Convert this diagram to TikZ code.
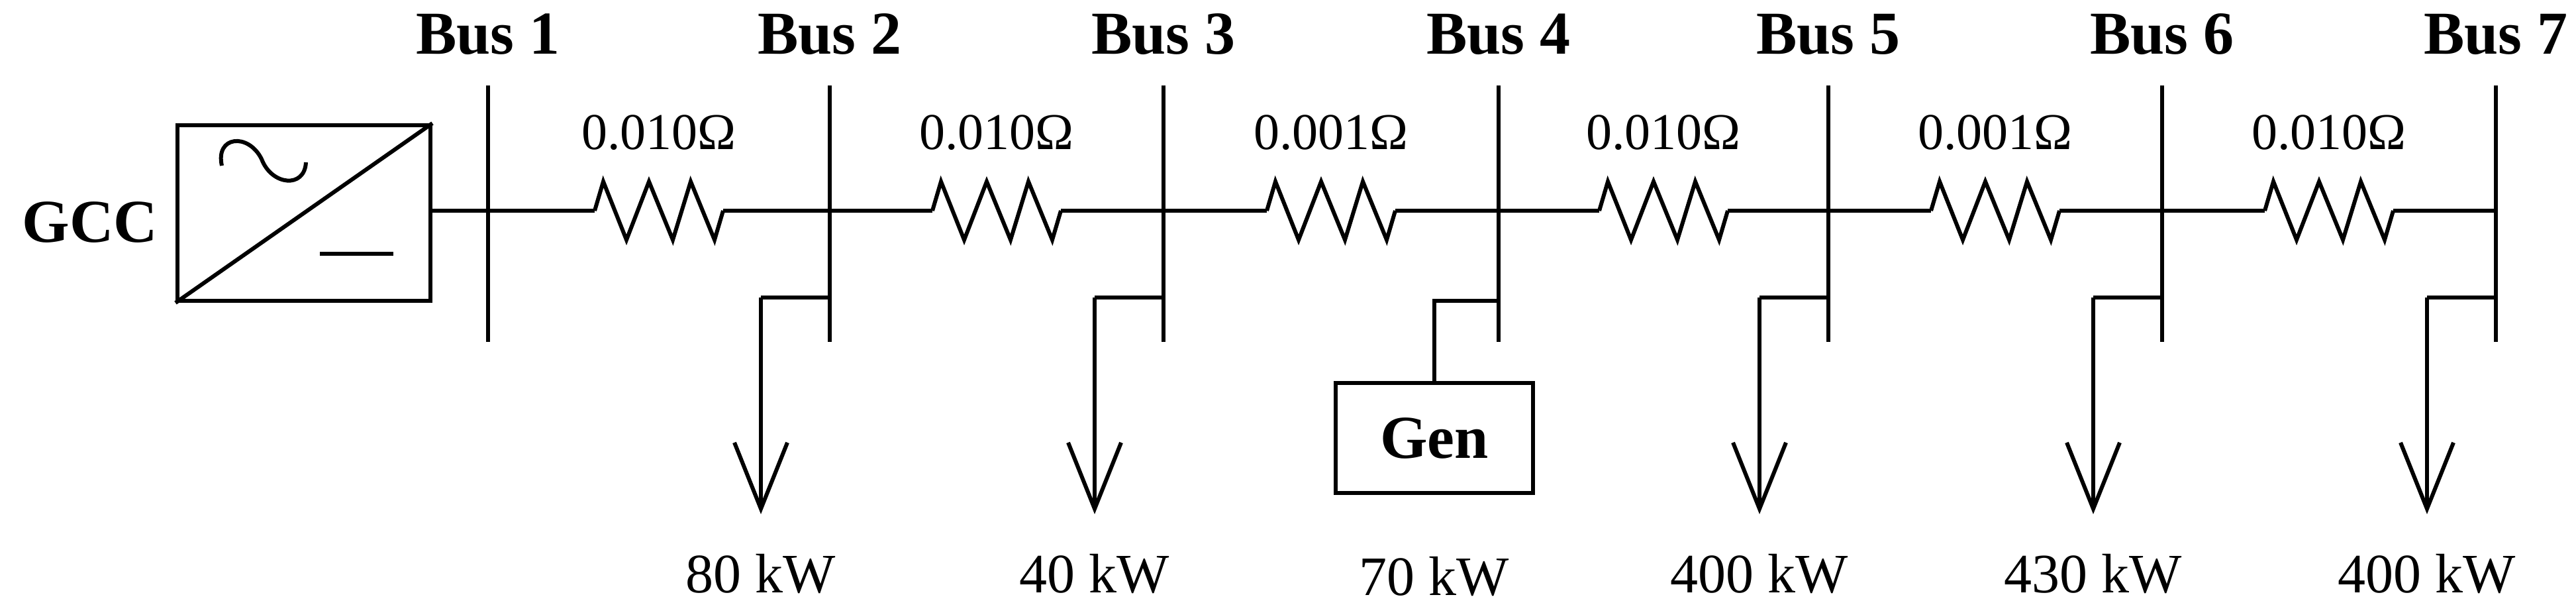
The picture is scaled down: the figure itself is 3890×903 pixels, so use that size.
\documentclass[tikz,border=0pt]{standalone}
\usepackage{fontspec}
\setmainfont{Liberation Serif}
\usetikzlibrary{arrows.meta,calc}
\begin{document}
\begin{tikzpicture}[x=1pt,y=-1pt,line width=6pt,
  bus/.style={font=\bfseries\fontsize{92}{100}\selectfont},
  res/.style={font=\fontsize{78}{86}\selectfont},
  kw/.style={font=\fontsize{84}{92}\selectfont},
  load/.style={-{Straight Barb[length=100pt,width=80pt,line width=6pt]}},
  resistor/.pic={\draw[line join=miter] (-97,0) -- (-84,-44) -- (-49,44) -- (-15,-44) -- (21,44) -- (48,-44) -- (84,44) -- (97,0);}]
\useasboundingbox (0,0) rectangle (3890,903);
% converter
\node[draw,minimum width=382pt,minimum height=265pt,inner sep=0pt] (conv) at (459,321.5) {};
\draw (conv.south west) -- (conv.north east);
\draw (335,250) .. controls (325,205) and (375,200) .. (395,240) .. controls (410,280) and (460,285) .. (462,245);
\draw (483,383) -- (594,383);
\node[bus] (gcc) at (136,335) {GCC};
% buses
\foreach \i/\x in {1/737,2/1253,3/1757,4/2263,5/2761,6/3265,7/3769}{
  \coordinate (t\i) at (\x,129); \coordinate (b\i) at (\x,516); \coordinate (m\i) at (\x,318);
  \draw (t\i) -- (b\i);
  \node[bus] (lab\i) at (\x,52) {Bus \i};
}
\draw (conv.east |- m1) -- (m7);
% resistors
\foreach \a/\b/\r in {1/2/0.010,2/3/0.010,3/4/0.001,4/5/0.010,5/6/0.001,6/7/0.010}{
  \coordinate (r\a) at ($(m\a)!0.5!(m\b)$);
  \fill[white] ($(r\a)+(-97,-10)$) rectangle ($(r\a)+(97,10)$);
  \pic at (r\a) {resistor};
  \node[res] (rl\a) at ($(r\a)+(0,-118)$) {\r Ω};
}
% loads
\foreach \i/\x/\v in {2/1253/80,3/1757/40,5/2761/400,6/3265/430,7/3769/400}{
  \coordinate (p\i) at (\x,449); \coordinate (q\i) at (\x-104,449); \coordinate (e\i) at (\x-104,776);
  \draw (p\i) -- (q\i);
  \draw[load] (q\i) -- (e\i);
  \node[kw] (kw\i) at (\x-104,866) {\v\ kW};
}
% gen
\node[draw,minimum width=298pt,minimum height=166pt,inner sep=0pt,bus] (gen) at (2166,661) {Gen};
\coordinate (g4) at (2263,454);
\draw (g4) -| (gen.north);
\node[kw] (kw4) at (2166,870) {70 kW};
\end{tikzpicture}
\end{document}
